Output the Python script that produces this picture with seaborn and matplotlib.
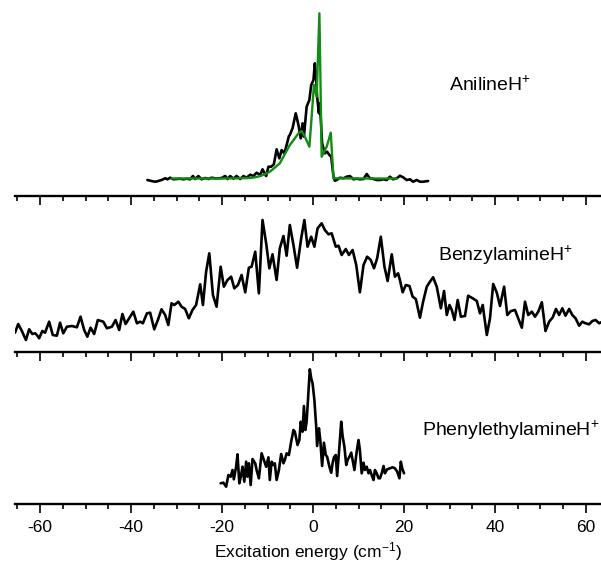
import numpy as np
import pandas as pd
import matplotlib
matplotlib.use("Agg")
import matplotlib.pyplot as plt
from matplotlib.ticker import MultipleLocator
import seaborn as sns

# ---------------- data ----------------
# AnilineH+ : experimental (black) spectrum
aniline_x = [-36.4, -35.5, -34.7, -34.0, -33.3, -32.5, -32.0, -31.4, -30.7, -30.0,
             -29.2, -28.5, -27.8, -27.0, -26.4, -25.9, -25.2, -24.5, -23.7, -23.0,
             -22.3, -21.5, -20.8, -20.1, -19.3, -18.8, -18.2, -17.5, -16.8, -16.0,
             -15.3, -14.6, -13.8, -13.1, -12.4, -11.6, -11.1, -10.3, -9.8, -9.2,
             -8.6, -8.0, -7.4, -6.9, -6.3, -5.8, -5.3, -5.1,
             -4.5, -3.8, -3.2, -2.7, -2.3, -2.0, -1.4, -0.8, -0.4, 0.1,
             0.4, 0.7, 0.9, 1.3, 1.4, 1.7, 2.0, 2.3, 2.6, 3.1,
             3.6, 4.0, 4.5, 4.8, 5.2, 5.9, 6.7, 7.4, 8.1, 8.9,
             9.6, 10.3, 11.1, 11.8, 12.5, 13.3, 14.0, 14.7, 15.5, 16.2,
             16.9, 17.6, 18.4, 19.1, 19.8, 20.6, 21.3, 22.0, 22.8, 23.5,
             24.2, 25.3]
aniline_y = [2, 1, 0.3, 1, 2, 3.7, 2.7, 4.3, 2.7, 3,
             3.3, 2.7, 3.3, 2.7, 6, 3, 6, 2.7, 4, 3,
             4.3, 3.7, 3.7, 4, 6, 3, 6, 3.3, 6, 3,
             6, 4.3, 7.3, 6, 9.3, 7, 12.7, 6, 15.3, 15.3,
             17.7, 32.7, 23.7, 32, 28.7, 37, 46, 47,
             53.7, 68.7, 57, 43.7, 58.7, 45.3, 75.3, 82, 97, 102,
             118.7, 103.7, 85.3, 68.7, 78.7, 63.7, 38.7, 33.7, 28.7, 30.3,
             27, 25.3, 5.3, 1.3, 2, 4.3, 3.7, 5.3, 6, 2.7,
             3.3, 2.7, 3, 8, 3.7, 3, 2, 2, 2.7, 2,
             5.3, 2.7, 3.7, 6.3, 4.7, 2, 2.7, 0.3, 2, 0.3,
             0.3, 1]

# AnilineH+ : simulated (green) spectrum
anil_sim_x = [-31.1, -25.0, -20.0, -16.8, -13.8, -12.4, -11.6, -10.5, -9.5, -8.5,
              -7.3, -6.3, -5.1, -4.0, -3.2, -2.5, -1.8, -0.8, -0.3, 0.2,
              0.8, 1.4, 1.9, 3.0, 3.9, 4.5, 10.0, 18.4]
anil_sim_y = [3.5, 3.5, 3.5, 3.7, 4, 5, 6, 8, 10.3, 14,
              18.7, 27, 37, 43.7, 48.7, 51, 45.3, 35.3, 65.3, 97,
              85.3, 168.7, 25.3, 35.3, 49.3, 3.7, 3.5, 3.5]

# BenzylamineH+
benzyl_x = [-65.5, -64.8, -64.0, -63.1, -62.4, -61.7, -61.1, -60.7, -60.2, -59.5,
            -58.9, -58.0, -57.2, -56.3, -55.6, -54.9, -54.1, -53.0, -51.9, -51.1,
            -50.3, -49.6, -48.9, -48.1, -47.3, -46.1, -45.3, -44.2, -43.4, -42.6,
            -41.9, -41.2, -40.2, -39.5, -38.7, -38.0, -37.4, -36.5, -35.8, -34.9,
            -34.1, -33.3, -32.5, -31.8, -31.1, -30.5, -29.6, -28.9, -28.1, -27.3,
            -26.5, -25.7, -24.8,
            -24.2, -23.5, -22.8, -22.0, -21.2, -20.3, -19.6, -18.8, -18.0, -17.3,
            -16.5, -15.7, -14.9, -14.1, -13.5, -12.7, -11.9, -11.1, -10.3, -9.6,
            -8.9, -8.0, -7.3, -6.5, -5.8, -5.1, -4.3, -3.5, -2.6, -1.9,
            -1.2, -0.4, 0.3, 1.0, 1.9, 2.6, 3.4, 4.1, 5.0, 5.6,
            6.3, 7.2, 7.9, 8.7, 9.5, 10.3, 11.1, 11.9, 12.7, 13.4,
            14.1, 14.9, 15.7, 16.4, 17.3, 18.0, 18.7, 19.1,
            19.7, 20.4, 21.2, 21.9, 22.6, 23.5, 24.2, 25.0, 25.7, 26.4,
            27.2, 28.1, 28.8, 29.4, 30.0, 30.5, 31.1, 31.8, 32.5, 33.4,
            34.1, 35.1, 36.0, 36.7, 37.3, 38.2, 38.9, 39.6, 40.4, 41.1,
            42.0, 42.7, 43.5, 44.4, 45.1, 45.9, 46.6, 47.3, 48.1, 48.8,
            49.5, 50.3, 51.1, 51.9, 52.7, 53.4, 54.1, 54.8, 55.5, 56.3,
            57.0, 57.7, 58.5, 59.2, 59.9, 60.7, 61.4, 62.1, 62.9, 63.3]
benzyl_y = [12.3, 21, 14, 5, 15.7, 11, 11.7, 10, 6.7, 14,
            12.3, 23.3, 10, 9.3, 22.3, 11.7, 18.3, 19, 17.7, 28.3,
            15, 8.3, 17.3, 11, 25, 23.3, 16.7, 18.3, 25, 15,
            31, 21, 28.3, 33.3, 21.7, 23.3, 21.7, 31.7, 32.3, 15.7,
            25, 35.7, 30, 20, 41.7, 40, 43.3, 38.3, 36, 26.7,
            35, 40, 60.7,
            40, 73.3, 91.7, 50, 38.3, 78.3, 58.3, 65, 68.3, 56.7,
            60, 70, 52.7, 77.3, 78.3, 93.3, 51.7, 125, 101.7, 76.7,
            90.7, 65, 96.7, 109, 89.3, 120, 100, 77.3, 106.7, 125,
            98.3, 108.3, 98.3, 116.7, 121.7, 115, 110.7, 111.7, 98.3, 99.3,
            90, 96, 90, 95, 80, 52.7, 80, 88.3, 85, 76.7,
            86.7, 108.3, 78.3, 64, 90.7, 68.3, 71.7, 65,
            52.7, 60, 59, 48.3, 46, 27.3, 43.3, 58.3, 63.3, 67.7,
            58.3, 36.7, 54, 30, 40, 35, 25, 45, 28.3, 29,
            49.3, 46.7, 44, 31.7, 40, 10, 26.7, 61, 52.3, 39,
            58.3, 30, 34, 35, 26.7, 17.3, 43.3, 30, 33.3, 28.3,
            33.3, 42.7, 14, 23.3, 27.7, 36, 30, 36.7, 29.3, 36,
            30, 26.7, 19.3, 23.3, 21.7, 20.7, 24, 25, 21.7, 22.7]

# PhenylethylamineH+
phenyl_x = [-20.3, -19.7, -19.1, -18.6, -18.1, -17.7, -17.4, -16.9, -16.6, -16.2,
            -15.8, -15.5, -15.1, -14.7, -14.4, -14.1, -13.7, -13.3, -12.7, -12.4,
            -11.9, -11.3, -10.8, -10.3, -9.8, -9.5, -9.1, -8.7, -8.4, -8.0,
            -7.5, -7.0, -6.5, -6.2, -5.8, -5.3, -4.8, -4.3, -4.0, -3.4,
            -3.0, -2.7, -2.3, -2.0, -1.7, -1.4, -1.0, -0.7, -0.4, -0.1,
            0.3, 0.7, 0.9, 1.3, 1.6, 2.0, 2.4, 2.8, 3.1, 3.6,
            4.0, 4.3, 4.6, 5.0, 5.3, 5.8, 6.2, 6.5, 6.9, 7.3,
            7.6, 8.0, 8.4, 8.7, 9.1, 9.6, 10.0, 10.3, 10.7, 11.1,
            11.4, 11.8, 12.2, 12.5, 12.9, 13.3, 13.6, 14.0, 14.4, 14.7,
            15.1, 15.5, 15.8, 16.3, 16.9, 17.5, 18.0, 18.5, 19.0, 19.3,
            19.6, 20.0]
phenyl_y = [16.7, 17.3, 13.3, 25, 23.3, 30, 20.7, 33.3, 45.7, 16.7,
            25, 33.3, 18.3, 38.3, 23.3, 36.7, 15, 41, 36.7, 30,
            21.7, 46.7, 40, 33.3, 42.7, 20, 38.3, 35, 36.7, 20,
            30, 46, 36.7, 40, 46.7, 45, 58.3, 70, 68.3, 55,
            60, 78.3, 68.3, 94, 70, 78.3, 108.3, 130.7, 121.7, 116.7,
            100, 73.3, 54, 71.7, 60, 34, 57.3, 45, 43.3, 33.3,
            27.3, 36.7, 42.7, 45, 24, 53.3, 78.3, 64, 53.3, 35,
            40, 43.3, 47.3, 40, 30, 48.3, 60, 50, 26.7, 37.3,
            30, 33.3, 26.7, 30, 25, 20, 30, 26.7, 21.7, 21.7,
            26.7, 34, 26.7, 30.7, 31.7, 32.7, 31.7, 28.3, 21.7, 38.3,
            31.7, 26.7]

panel_labels = ["AnilineH$^{+}$", "BenzylamineH$^{+}$", "PhenylethylamineH$^{+}$"]
xlabel_text = "Excitation energy (cm$^{-1}$)"
tick_values = [-60, -40, -20, 0, 20, 40, 60]

# ---------------- styling ----------------
sns.set_theme(style="white")
plt.rcParams["font.family"] = ["Liberation Sans", "DejaVu Sans"]
plt.rcParams["mathtext.fontset"] = "custom"
plt.rcParams["mathtext.rm"] = "Liberation Sans"
plt.rcParams["mathtext.it"] = "Liberation Sans:italic"
plt.rcParams["mathtext.bf"] = "Liberation Sans:bold"
plt.rcParams["text.color"] = "black"
plt.rcParams["axes.labelcolor"] = "black"
plt.rcParams["xtick.color"] = "black"

fig = plt.figure(figsize=(6.01, 5.67), dpi=100)
left, width = 0.025, 0.975
ax_top = fig.add_axes([left, 0.6543, width, 0.3457])
ax_mid = fig.add_axes([left, 0.3792, width, 0.2751])
ax_bot = fig.add_axes([left, 0.1111, width, 0.2681])

black_lw = 1.9
green = "#128c12"

df_a = pd.DataFrame({"x": aniline_x, "y": aniline_y})
df_as = pd.DataFrame({"x": anil_sim_x, "y": anil_sim_y})
df_b = pd.DataFrame({"x": benzyl_x, "y": benzyl_y})
df_p = pd.DataFrame({"x": phenyl_x, "y": phenyl_y})

sns.lineplot(data=df_a, x="x", y="y", ax=ax_top, color="black", lw=black_lw,
             estimator=None, sort=False)
sns.lineplot(data=df_as, x="x", y="y", ax=ax_top, color=green, lw=1.7,
             estimator=None, sort=False)
sns.lineplot(data=df_b, x="x", y="y", ax=ax_mid, color="black", lw=black_lw,
             estimator=None, sort=False)
sns.lineplot(data=df_p, x="x", y="y", ax=ax_bot, color="black", lw=black_lw,
             estimator=None, sort=False)

ylims = [(-14, 182), (-7, 149), (-4, 148)]
label_pos = [(29.9, 97), (27.5, 90), (24.0, 70)]
for ax, yl, lab, pos in zip([ax_top, ax_mid, ax_bot], ylims, panel_labels, label_pos):
    ax.set_xlim(-65.5, 63.3)
    ax.set_ylim(*yl)
    ax.patch.set_alpha(0)
    for s in ["left", "right", "top"]:
        ax.spines[s].set_visible(False)
    ax.spines["bottom"].set_linewidth(1.7)
    ax.spines["bottom"].set_color("black")
    ax.set_yticks([])
    ax.set_ylabel("")
    ax.set_xlabel("")
    ax.xaxis.set_major_locator(MultipleLocator(20))
    ax.xaxis.set_minor_locator(MultipleLocator(5))
    ax.tick_params(axis="x", which="major", direction="out", length=6.5, width=1.2,
                   color="black", labelcolor="black", bottom=True, labelsize=12.5, pad=5)
    ax.tick_params(axis="x", which="minor", direction="out", length=3.6, width=1.2,
                   color="black", bottom=True)
    ax.text(pos[0], pos[1], lab, fontsize=14, ha="left", va="center", color="black")

ax_top.tick_params(labelbottom=False)
ax_mid.tick_params(labelbottom=False)
ax_bot.set_xticks(tick_values)
ax_bot.set_xticklabels([str(v) for v in tick_values])
ax_bot.set_xlabel(xlabel_text, fontsize=12.5, labelpad=4, color="black")

fig.savefig("out.png", dpi=100)
